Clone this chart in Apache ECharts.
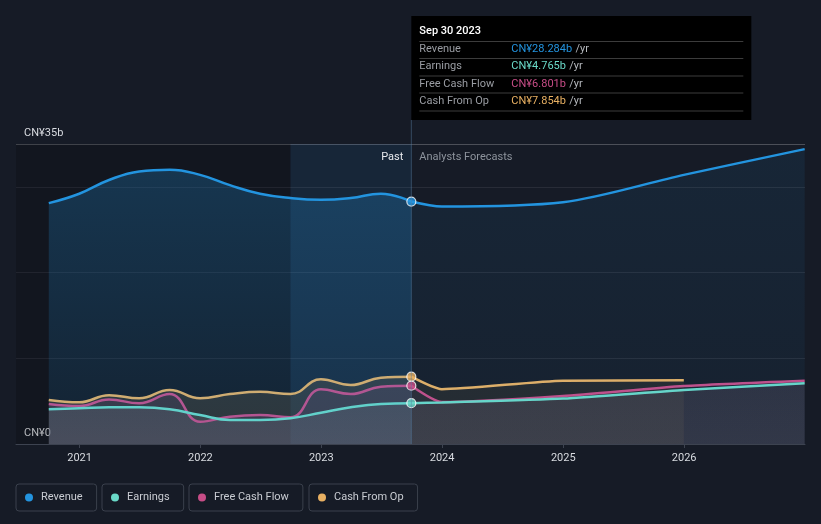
<!DOCTYPE html>
<html><head><meta charset="utf-8">
<script src="https://cdn.jsdelivr.net/npm/echarts@6/dist/echarts.min.js"></script>
<style>html,body{margin:0;padding:0;background:#161b26;}#c{width:821px;height:524px;}</style>
</head><body><div id="c"></div>
<script>
// ---- data ----
const pastDates = ['2020-09-30','2020-12-31','2021-03-31','2021-06-30','2021-09-30','2021-12-31','2022-03-31','2022-06-30','2022-09-30','2022-12-31','2023-03-31','2023-06-30','2023-09-30'];
const revenuePast  = [28.1, 29.2, 30.8, 31.8, 32.0, 31.4, 30.2, 29.2, 28.7, 28.5, 28.7, 29.2, 28.284];
const earningsPast = [4.05, 4.16, 4.28, 4.28, 4.05, 3.38, 2.8, 2.8, 3.0, 3.65, 4.28, 4.67, 4.765];
const fcfPast      = [4.67, 4.43, 5.2, 4.75, 5.83, 2.6, 3.19, 3.38, 3.11, 6.38, 5.83, 6.69, 6.801];
const cfoPast      = [5.13, 4.86, 5.7, 5.33, 6.3, 5.33, 5.83, 6.1, 5.83, 7.55, 6.88, 7.74, 7.854];
const forecastDates = ['2023-09-30','2023-12-31','2024-12-31','2025-12-31','2026-12-31'];
const revenueFc  = [28.284, 27.7, 28.2, 31.4, 34.4];
const earningsFc = [4.765, 4.85, 5.3, 6.3, 7.08];
const fcfFc      = [6.801, 4.9, 5.6, 6.77, 7.39];
const cfoFc      = [7.854, 6.4, 7.39, 7.43];
const yTickLabels = {0: 'CN¥0', 35: 'CN¥35b'};
const xRange = ['2020-06-23', '2027-01-01'];
const pastStart = '2022-09-30';
const nowDate = '2023-09-30';
const tipTitle = 'Sep 30 2023';
const names = ['Revenue', 'Earnings', 'Free Cash Flow', 'Cash From Op'];
const colors = ['#2394df', '#6ad9c8', '#c74d87', '#e8b062'];

// ---- build ----
const t = d => new Date(d + 'T00:00:00Z').getTime();
const pairs = (dates, vals) => vals.map((v, i) => [t(dates[i]), v]);
const FONT = 'Roboto, "Open Sans", sans-serif';

function lineSeries(name, color, data, area, z, smooth) {
  return {
    name, type: 'line', data, smooth: smooth,
    symbol: 'none', z: z || 2,
    lineStyle: {color, width: 2.5},
    itemStyle: {color},
    areaStyle: area,
    emphasis: {disabled: true}
  };
}
const grad = (c1, c2) => ({type: 'linear', x: 0, y: 0, x2: 0, y2: 1, colorStops: [{offset: 0, color: c1}, {offset: 1, color: c2}]});

const revPast = lineSeries(names[0], colors[0], pairs(pastDates, revenuePast),
  {color: grad('rgba(35,148,223,0.36)', 'rgba(35,148,223,0.14)'), origin: 'start'}, 3, 0.45);
revPast.markArea = {
  silent: true,
  data: [
    [{xAxis: t(xRange[0]), itemStyle: {color: 'rgba(0,0,0,0.16)'}}, {xAxis: t(pastStart)}],
    [{xAxis: t(pastStart), itemStyle: {color: 'rgba(40,140,220,0.10)'},
      label: {show: true, formatter: 'Past', position: 'insideTopRight', distance: 8, offset: [0, 0], color: '#e8eaee', fontSize: 11, fontFamily: FONT}},
     {xAxis: t(nowDate)}],
    [{xAxis: t(nowDate), itemStyle: {color: 'rgba(0,0,0,0)'},
      label: {show: true, formatter: 'Analysts Forecasts', position: 'insideTopLeft', distance: 8, offset: [0, 0], color: '#8d939c', fontSize: 11, fontFamily: FONT}},
     {xAxis: t(xRange[1])}]
  ]
};
const revFc = lineSeries(names[0], colors[0], pairs(forecastDates, revenueFc),
  {color: grad('rgba(35,148,223,0.13)', 'rgba(35,148,223,0.07)'), origin: 'start'}, 3, 0.3);

const cfoP = lineSeries(names[3], colors[3], pairs(pastDates, cfoPast), {color: 'rgba(100,86,62,0.5)'}, 2, 0.45);
const cfoF = lineSeries(names[3], colors[3], pairs(forecastDates, cfoFc), {color: 'rgba(95,78,55,0.3)'}, 2, 0.2);
const fcfP = lineSeries(names[2], colors[2], pairs(pastDates, fcfPast), {color: 'rgba(135,75,150,0.2)'}, 2, 0.45);
const fcfF = lineSeries(names[2], colors[2], pairs(forecastDates, fcfFc), {color: 'rgba(130,80,140,0.12)'}, 2, 0.2);
const earP = lineSeries(names[1], colors[1], pairs(pastDates, earningsPast), {color: grad('rgba(140,160,160,0.2)', 'rgba(150,155,160,0.28)')}, 2, 0.45);
const earF = lineSeries(names[1], colors[1], pairs(forecastDates, earningsFc), {color: grad('rgba(150,150,155,0.18)', 'rgba(150,150,155,0.24)')}, 2, 0.2);

const last = a => a[a.length - 1];
const nowVals = [last(revenuePast), last(earningsPast), last(fcfPast), last(cfoPast)];
const dots = {
  type: 'scatter', z: 10, symbolSize: 9, silent: true,
  data: nowVals.map((v, i) => ({value: [t(nowDate), v], itemStyle: {color: colors[i], borderColor: '#ffffff', borderWidth: 1.2}}))
};

const legendBoxes = [16, 102, 189, 309].map((left, i) => ({
  data: [names[i]], left, top: 484, orient: 'horizontal',
  icon: 'circle', itemWidth: 14, itemHeight: 8,
  padding: [8, 14, 8, 9],
  borderColor: '#3a404c', borderWidth: 1, borderRadius: 3,
  textStyle: {color: '#c9ccd2', fontSize: 11, fontFamily: FONT},
  selectedMode: false
}));

const chart = echarts.init(document.getElementById('c'), null, {renderer: 'canvas'});
chart.setOption({
  backgroundColor: '#161b26',
  animation: false,
  textStyle: {fontFamily: FONT},
  grid: {left: 16, right: 16, top: 144, bottom: 80, containLabel: false},
  legend: legendBoxes,
  xAxis: {
    type: 'time', min: t(xRange[0]), max: t(xRange[1]), splitNumber: 6,
    axisLine: {lineStyle: {color: '#3d4350'}},
    axisTick: {show: true, length: 4, lineStyle: {color: '#3d4350'}},
    splitLine: {show: false},
    axisLabel: {
      color: '#d8dbe0', fontSize: 11, fontFamily: FONT, margin: 9,
      showMinLabel: false, showMaxLabel: false,
      formatter: v => { const d = new Date(v); return (d.getUTCMonth() === 0 && d.getUTCDate() === 1 && d.getUTCFullYear() < 2027) ? String(d.getUTCFullYear()) : ''; }
    }
  },
  yAxis: [
    {
      type: 'value', min: 0, max: 35, interval: 35,
      axisLine: {show: false}, axisTick: {show: false},
      splitLine: {show: true, lineStyle: {color: 'rgba(255,255,255,0.17)'}},
      axisLabel: {inside: true, margin: 8, color: '#d8dbe0', fontSize: 11, fontFamily: FONT,
        verticalAlign: 'bottom', lineHeight: 12, padding: [0, 0, 5, 0],
        formatter: v => yTickLabels[v] || ''}
    },
    {
      type: 'value', min: 0, max: 35, interval: 10,
      axisLine: {show: false}, axisTick: {show: false}, axisLabel: {show: false},
      splitLine: {show: true, lineStyle: {color: 'rgba(255,255,255,0.08)'}}
    }
  ],
  series: [revPast, revFc, cfoP, cfoF, fcfP, fcfF, earP, earF, dots]
});

// tooltip-like box at the "now" line
const x0 = chart.convertToPixel({xAxisIndex: 0}, t(nowDate));
const yBottom = chart.convertToPixel({yAxisIndex: 0}, 0);
const boxTop = 16, boxH = 104, boxW = 340;
const rowY = [49, 66, 84, 101];
const sepY = [41.5, 58.5, 76, 93, 111];
const valTexts = nowVals.map(v => 'CN¥' + v.toFixed(3) + 'b');
const g = [
  {type: 'line', shape: {x1: x0, y1: boxTop + boxH, x2: x0, y2: yBottom}, style: {stroke: 'rgba(90,130,170,0.45)', lineWidth: 1}, z: 20},
  {type: 'rect', shape: {x: x0, y: boxTop, width: boxW, height: boxH}, style: {fill: '#000000'}, z: 30},
  {type: 'text', x: x0 + 8, y: 31.5, style: {text: tipTitle, fill: '#ffffff', font: '500 11px ' + FONT, verticalAlign: 'middle'}, z: 31}
];
sepY.forEach(y => g.push({type: 'line', shape: {x1: x0 + 8, y1: y, x2: x0 + boxW - 8, y2: y}, style: {stroke: '#3c3c3c', lineWidth: 1}, z: 31}));
names.forEach((n, i) => {
  g.push({type: 'text', x: x0 + 8, y: rowY[i], style: {text: n, fill: '#9a9da3', font: '11px ' + FONT, verticalAlign: 'middle'}, z: 31});
  g.push({type: 'text', x: x0 + 100, y: rowY[i], style: {
    text: '{v|' + valTexts[i] + '} {u|/yr}', verticalAlign: 'middle',
    rich: {v: {fill: colors[i], font: '11px ' + FONT}, u: {fill: '#b5b8bd', font: '11px ' + FONT}}
  }, z: 31});
});
chart.setOption({graphic: g});
</script></body></html>
